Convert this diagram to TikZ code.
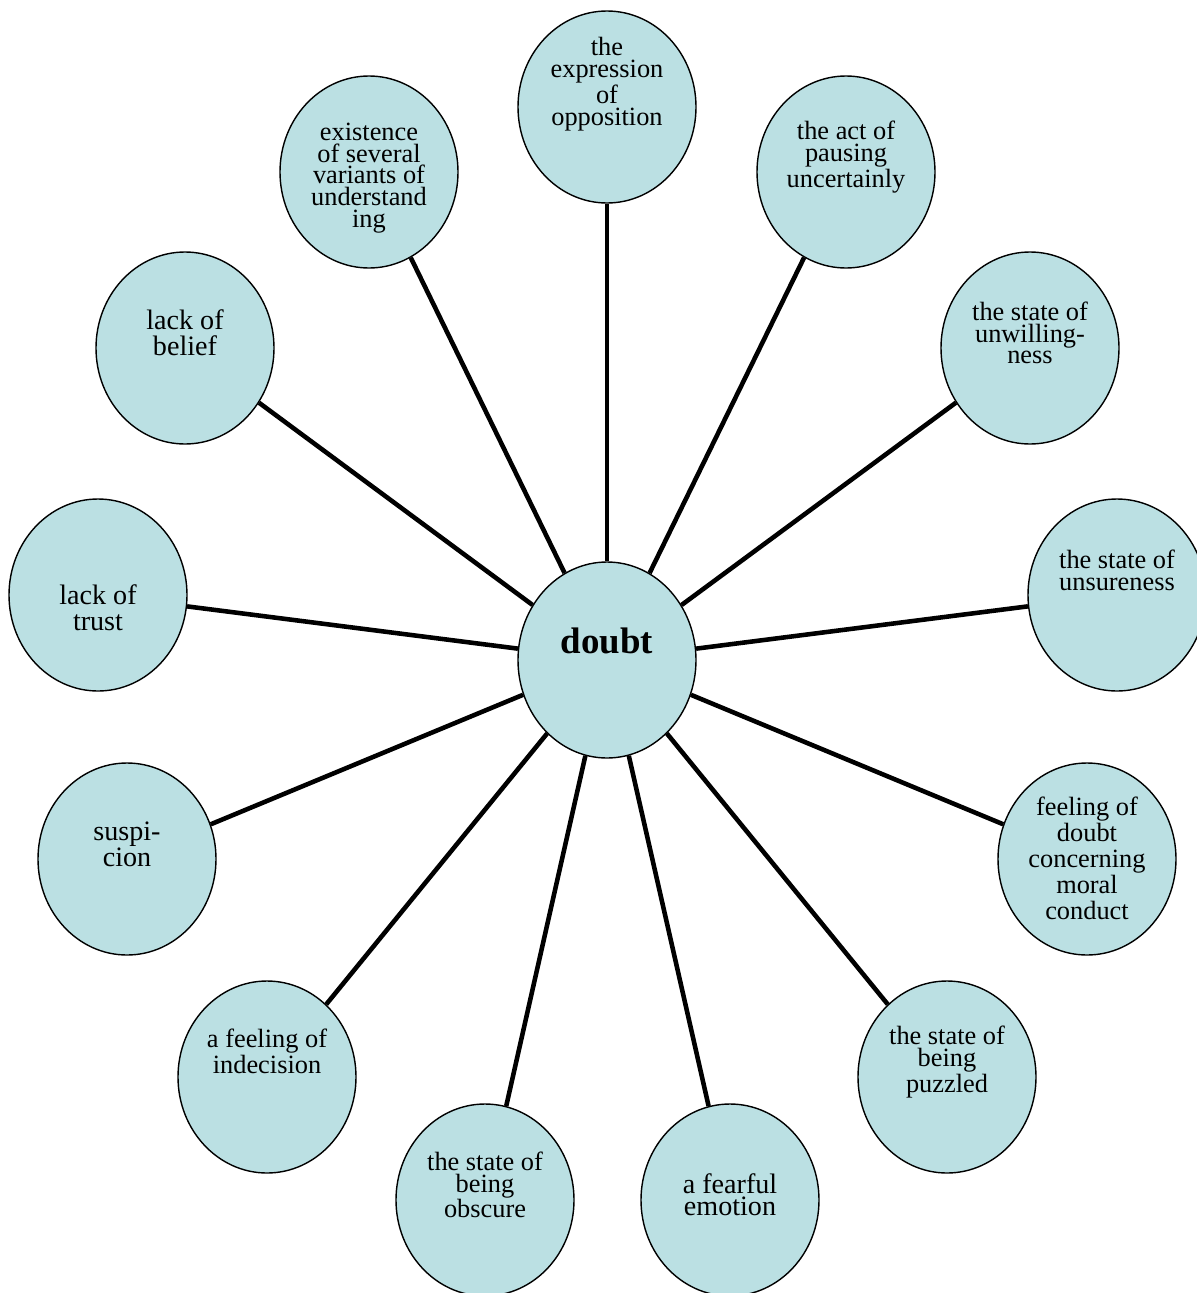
\documentclass[tikz,border=0pt]{standalone}
\usepackage{fontspec}
\setmainfont{Liberation Serif}
\usepackage{xcolor}
\usepackage{tikz}
\usetikzlibrary{shapes.geometric, positioning, calc}

\definecolor{bubblefill}{RGB}{187,224,227}

\begin{document}
\begin{tikzpicture}[
    bubble/.style={ellipse, draw, line width=0.8pt, fill=bubblefill, minimum width=3.56cm, minimum height=3.84cm, inner sep=0pt},
    hub/.style={bubble, minimum height=3.92cm},
    tight/.style={align=center, inner sep=0pt, font={\fontsize{15pt}{12.4pt}\selectfont}},
    loose/.style={align=center, inner sep=0pt, font={\fontsize{16pt}{15pt}\selectfont}},
    spoke/.style={line width=2.6pt}
]
\useasboundingbox (0,0) rectangle (23.94,-25.86);

% centre
\node[hub] (doubt) at (12.14,-13.20) {};
\node[font={\fontsize{21pt}{24pt}\selectfont\bfseries}, inner sep=0pt] (doubt-t) at (12.14,-12.82) {doubt};

% outer ring, clockwise from the top
\node[bubble] (opp) at (12.14,-2.14) {};
\node[tight] (opp-t) at (12.14,-1.68) {the\\expression\\of\\opposition};

\node[bubble] (pause) at (16.92,-3.44) {};
\node[tight] (pause-t) at (16.92,-3.14) {the act of\\pausing\\uncertainly};

\node[bubble] (unwill) at (20.60,-6.96) {};
\node[tight] (unwill-t) at (20.60,-6.66) {the state of\\unwilling-\\ness};

\node[bubble] (unsure) at (22.34,-11.90) {};
\node[tight] (unsure-t) at (22.34,-11.40) {the state of\\unsureness};

\node[bubble] (moral) at (21.74,-17.18) {};
\node[align=center, inner sep=0pt, font={\fontsize{15pt}{14.8pt}\selectfont}] (moral-t) at (21.74,-17.16) {feeling of\\doubt\\concerning\\moral\\conduct};

\node[bubble] (puzzled) at (18.94,-21.54) {};
\node[tight] (puzzled-t) at (18.94,-21.24) {the state of\\being\\puzzled};

\node[bubble] (fearful) at (14.60,-24.00) {};
\node[tight, font={\fontsize{16pt}{12.4pt}\selectfont}] (fearful-t) at (14.60,-23.90) {a fearful\\emotion};

\node[bubble] (obscure) at (9.70,-24.00) {};
\node[tight] (obscure-t) at (9.70,-23.70) {the state of\\being\\obscure};

\node[bubble] (indecision) at (5.34,-21.54) {};
\node[tight] (indecision-t) at (5.34,-21.02) {a feeling of\\indecision};

\node[bubble] (suspicion) at (2.54,-17.18) {};
\node[loose] (suspicion-t) at (2.54,-16.88) {suspi-\\cion};

\node[bubble] (trust) at (1.96,-11.90) {};
\node[loose] (trust-t) at (1.96,-12.16) {lack of\\trust};

\node[bubble] (belief) at (3.70,-6.96) {};
\node[loose] (belief-t) at (3.70,-6.66) {lack of\\belief};

\node[bubble] (variants) at (7.38,-3.44) {};
\node[tight] (variants-t) at (7.38,-3.56) {existence\\of several\\variants of\\understand\\ing};

% spokes
\draw[spoke] (doubt) -- (opp);
\draw[spoke] (doubt) -- (pause);
\draw[spoke] (doubt) -- (unwill);
\draw[spoke] (doubt) -- (unsure);
\draw[spoke] (doubt) -- (moral);
\draw[spoke] (doubt) -- (puzzled);
\draw[spoke] (doubt) -- (fearful);
\draw[spoke] (doubt) -- (obscure);
\draw[spoke] (doubt) -- (indecision);
\draw[spoke] (doubt) -- (suspicion);
\draw[spoke] (doubt) -- (trust);
\draw[spoke] (doubt) -- (belief);
\draw[spoke] (doubt) -- (variants);

\end{tikzpicture}
\end{document}
